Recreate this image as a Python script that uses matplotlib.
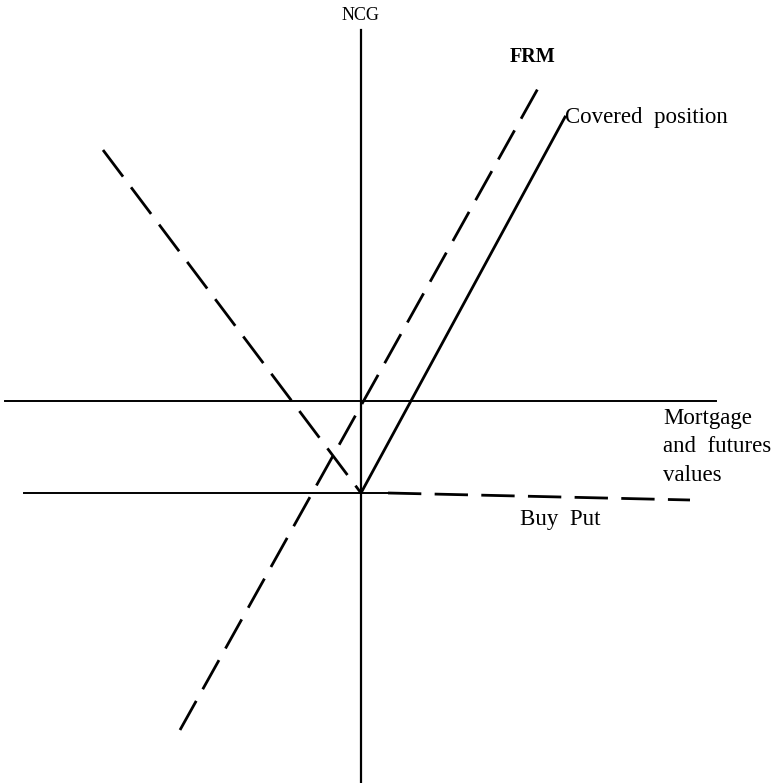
import matplotlib.pyplot as plt

plt.rcParams['font.family'] = ['Liberation Serif', 'DejaVu Serif']

# Diagram coordinates: origin where the NCG axis meets the value axis
ncg_axis_x = [0, 0]
ncg_axis_y = [-382, 371]
value_axis_x = [-356, 355]
value_axis_y = [0, 0]

floor_x = [-337, 27]
floor_y = [-92, -92]

put_x = [-258, 0]
put_y = [251, -92]

buy_put_x = [27, 329]
buy_put_y = [-92, -99]

frm_x = [-181, 180]
frm_y = [-329, 318]

covered_x = [0, 204]
covered_y = [-92, 284]

fig = plt.figure(figsize=(7.84, 7.83), dpi=100)
ax = fig.add_axes([0, 0, 1, 1])
ax.set_xlim(-361, 423)
ax.set_ylim(-382, 401)
ax.axis('off')

dash = (0, (12, 4.8))
ax.plot(ncg_axis_x, ncg_axis_y, color='black', lw=1.6)
ax.plot(value_axis_x, value_axis_y, color='black', lw=1.4)
ax.plot(floor_x, floor_y, color='black', lw=1.4)
ax.plot(covered_x, covered_y, color='black', lw=2.0)
ax.plot(put_x, put_y, color='black', lw=2.0, linestyle=dash)
ax.plot(frm_x, frm_y, color='black', lw=2.0, linestyle=dash)
ax.plot(buy_put_x, buy_put_y, color='black', lw=2.0, linestyle=dash)

ax.text(0, 386, 'NCG', ha='center', va='center', fontsize=13)
ax.text(172, 344, 'FRM', ha='center', va='center', fontsize=14.5, fontweight='bold')
ax.text(204, 284, 'Covered  position', ha='left', va='center', fontsize=16.5)
ax.text(302, -46, 'Mortgage\nand  futures\nvalues', ha='left', va='center',
        fontsize=16.5, linespacing=1.45)
ax.text(159, -119, 'Buy  Put', ha='left', va='center', fontsize=16.5)

plt.savefig('out.png', dpi=100)
